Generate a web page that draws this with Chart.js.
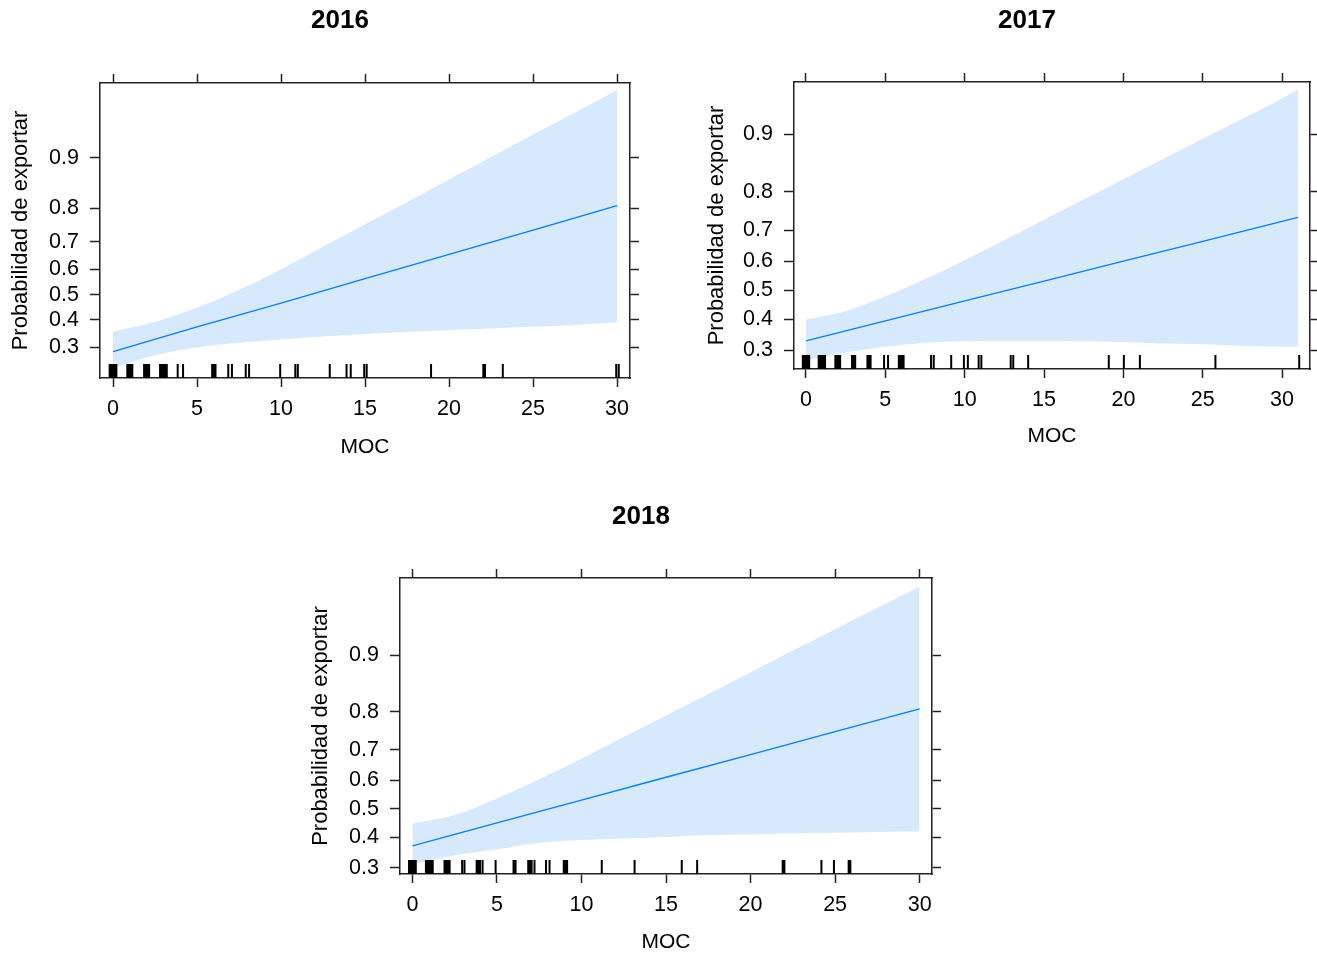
<!DOCTYPE html>
<html>
<head>
<meta charset="utf-8">
<script src="https://cdn.jsdelivr.net/npm/chart.js@4.4.1/dist/chart.umd.min.js"></script>
<style>
  html, body { margin: 0; padding: 0; background: #fff; }
  #page { position: relative; width: 1317px; height: 955px; overflow: hidden; }
  #page canvas { position: absolute; }
</style>
</head>
<body>
<div id="page">
  <canvas id="c2016"></canvas>
  <canvas id="c2017"></canvas>
  <canvas id="c2018"></canvas>
</div>
<script>
// values (probabilities), per year
var moc2016 = [0, 5, 10, 15, 20, 25, 30];
var fit2016 = [0.286, 0.374, 0.466, 0.564, 0.656, 0.738, 0.807];
var bandMoc2016 = [0, 2.5, 5, 7.5, 10, 12.5, 15, 17.5, 20, 22.5, 25, 27.5, 30];
var upper2016 = [0.356, 0.393, 0.449, 0.519, 0.600, 0.684, 0.756, 0.816, 0.864, 0.901, 0.929, 0.949, 0.964];
var lower2016 = [0.235, 0.275, 0.300, 0.316, 0.328, 0.338, 0.347, 0.355, 0.362, 0.368, 0.374, 0.381, 0.391];
var rug2016 = [-0.2, -0.1, 0, 0.1, 0.2, 0.85, 0.95, 1.05, 1.15, 1.85, 1.95, 2.05, 2.15,
  2.8, 2.9, 3.0, 3.1, 3.2, 3.85, 4.17, 5.9, 6.0, 6.1, 6.86, 7.08, 7.9, 8.1, 9.95,
  10.85, 11.0, 12.9, 13.9, 14.15, 14.95, 15.1, 18.93, 22.04, 22.14, 23.2, 29.95, 30.1];

var moc2017 = [0, 5, 10, 15, 20, 25, 31];
var fit2017 = [0.329, 0.394, 0.463, 0.532, 0.601, 0.666, 0.736];
var bandMoc2017 = [0, 2.5, 5, 7.5, 10, 12.5, 15, 17.5, 20, 22.5, 25, 27.5, 30, 31];
var upper2017 = [0.399, 0.427, 0.479, 0.539, 0.604, 0.670, 0.730, 0.782, 0.827, 0.864, 0.894, 0.918, 0.937, 0.944];
var lower2017 = [0.272, 0.294, 0.311, 0.323, 0.328, 0.329, 0.329, 0.328, 0.326, 0.321, 0.319, 0.314, 0.311, 0.311];
var rug2017 = [-0.2, -0.1, 0, 0.1, 0.2, 0.8, 0.9, 1.0, 1.1, 1.2, 1.85, 1.95, 2.05, 2.15,
  2.9, 3.0, 3.1, 3.87, 3.97, 4.07, 4.92, 5.17, 5.85, 5.95, 6.05, 6.15, 7.88, 8.05,
  9.15, 9.95, 10.2, 10.88, 11.05, 12.9, 13.06, 14.0, 19.08, 20.03, 21.04, 25.8, 31.08];

var moc2018 = [0, 5, 10, 15, 20, 25, 30];
var fit2018 = [0.370, 0.450, 0.531, 0.611, 0.685, 0.751, 0.807];
var bandMoc2018 = [0, 2.5, 5, 7.5, 10, 12.5, 15, 17.5, 20, 22.5, 25, 27.5, 30];
var upper2018 = [0.447, 0.478, 0.537, 0.604, 0.672, 0.737, 0.792, 0.838, 0.876, 0.906, 0.929, 0.947, 0.960];
var lower2018 = [0.311, 0.339, 0.359, 0.381, 0.390, 0.395, 0.400, 0.407, 0.409, 0.413, 0.415, 0.418, 0.419];
var rug2018 = [-0.2, -0.1, 0, 0.1, 0.2, 0.8, 0.9, 1.0, 1.1, 1.2, 1.9, 2.0, 2.1, 2.2,
  2.94, 3.08, 3.8, 3.9, 4.0, 4.15, 4.92, 5.98, 6.1, 6.85, 6.95, 7.05, 7.22, 7.9, 8.11,
  8.95, 9.05, 9.15, 11.2, 13.14, 15.93, 16.84, 21.9, 22.0, 24.19, 24.93, 25.8, 25.9];

var xTicks = [0, 5, 10, 15, 20, 25, 30];
var yTicks = [0.3, 0.4, 0.5, 0.6, 0.7, 0.8, 0.9];
var yTickLabels = ["0.3", "0.4", "0.5", "0.6", "0.7", "0.8", "0.9"];

var fontFamily = "'Liberation Sans', Arial, sans-serif";
var axisColor = "#222";
var bandColor = "rgb(215, 233, 253)";

function logit(p) { return Math.log(p / (1 - p)); }

function points(xs, ps) {
  return xs.map(function (x, i) { return { x: x, y: logit(ps[i]) }; });
}

// rug of observed MOC values along the bottom of the panel
var rugPlugin = {
  id: "rug",
  afterDatasetsDraw: function (chart, args, opts) {
    var ctx = chart.ctx, xs = chart.scales.x, area = chart.chartArea;
    ctx.save();
    ctx.strokeStyle = "#000";
    ctx.lineWidth = 2;
    ctx.beginPath();
    opts.values.forEach(function (v) {
      var px = xs.getPixelForValue(v);
      ctx.moveTo(px, area.bottom);
      ctx.lineTo(px, area.bottom - 14);
    });
    ctx.stroke();
    ctx.restore();
  }
};

function makePanel(p) {
  var canvas = document.getElementById(p.id);
  canvas.width = p.w;
  canvas.height = p.h;
  canvas.style.left = p.left + "px";
  canvas.style.top = p.top + "px";

  var tickFont = { family: fontFamily, size: 21.5 };
  var setX = function (s) { s.ticks = xTicks.map(function (v) { return { value: v }; }); };
  var setY = function (s) { s.ticks = yTicks.map(function (v) { return { value: logit(v) }; }); };
  var grid = function (len) {
    return { drawOnChartArea: false, drawTicks: true, tickLength: len, tickColor: axisColor, tickWidth: 1.5 };
  };
  var border = { display: true, color: axisColor, width: 1.5 };

  new Chart(canvas, {
    type: "line",
    data: {
      datasets: [
        {
          data: points(p.moc, p.fit),
          borderColor: "#0080ff",
          borderWidth: 1.3,
          pointRadius: 0,
          fill: false
        },
        {
          data: points(p.bandMoc, p.upper),
          borderColor: "transparent",
          borderWidth: 0,
          pointRadius: 0,
          backgroundColor: bandColor,
          fill: "+1",
          cubicInterpolationMode: "monotone"
        },
        {
          data: points(p.bandMoc, p.lower),
          borderColor: "transparent",
          borderWidth: 0,
          pointRadius: 0,
          fill: false,
          cubicInterpolationMode: "monotone"
        }
      ]
    },
    options: {
      responsive: false,
      animation: false,
      events: [],
      layout: { padding: 0 },
      plugins: {
        legend: { display: false },
        tooltip: { enabled: false },
        title: {
          display: true,
          text: p.title,
          color: "#000",
          font: { family: fontFamily, size: 26, weight: "bold" },
          padding: { top: 5, bottom: p.titleGap }
        },
        rug: { values: p.rug }
      },
      scales: {
        x: {
          type: "linear", position: "bottom", min: p.xMin, max: p.xMax,
          afterBuildTicks: setX,
          ticks: { font: tickFont, color: "#000", padding: 9, maxRotation: 0, autoSkip: false },
          grid: grid(9), border: border,
          title: { display: true, text: "MOC", color: "#000", font: { family: fontFamily, size: 21 }, padding: 0 },
          afterFit: function (s) { s.height = p.bottomH; }
        },
        xTop: {
          type: "linear", position: "top", min: p.xMin, max: p.xMax,
          afterBuildTicks: setX,
          ticks: { display: false },
          grid: grid(9), border: border,
          afterFit: function (s) { s.height = 9; }
        },
        y: {
          type: "linear", position: "left", min: p.yMin, max: p.yMax,
          afterBuildTicks: setY,
          ticks: {
            font: tickFont, color: "#000", padding: 11, autoSkip: false,
            callback: function (v, i) { return yTickLabels[i]; }
          },
          grid: grid(10), border: border,
          title: {
            display: true, text: "Probabilidad de exportar", color: "#000",
            font: { family: fontFamily, size: 22 },
            padding: { top: p.yTitlePad, bottom: 0 }
          },
          afterFit: function (s) { s.width = p.leftW; }
        },
        yRight: {
          type: "linear", position: "right", min: p.yMin, max: p.yMax,
          afterBuildTicks: setY,
          ticks: { display: false },
          grid: grid(9), border: border,
          afterFit: function (s) { s.width = p.rightW; }
        }
      }
    },
    plugins: [rugPlugin]
  });
}

makePanel({
  id: "c2016", title: "2016", left: 0, top: 0, w: 680, h: 460,
  leftW: 100, rightW: 50, bottomH: 82, titleGap: 37.8, yTitlePad: 7.8,
  xMin: -0.774, xMax: 30.77, yMin: -1.337, yMax: 3.398,
  moc: moc2016, fit: fit2016, bandMoc: bandMoc2016, upper: upper2016, lower: lower2016, rug: rug2016
});

makePanel({
  id: "c2017", title: "2017", left: 700, top: 0, w: 654, h: 449,
  leftW: 94, rightW: 44, bottomH: 80, titleGap: 36.8, yTitlePad: 3.8,
  xMin: -0.756, xMax: 31.76, yMin: -1.108, yMax: 2.932,
  moc: moc2017, fit: fit2017, bandMoc: bandMoc2017, upper: upper2017, lower: lower2017, rug: rug2017
});

makePanel({
  id: "c2018", title: "2018", left: 300, top: 496, w: 682, h: 459,
  leftW: 100, rightW: 50, bottomH: 81, titleGap: 36.8, yTitlePad: 7.8,
  xMin: -0.734, xMax: 30.73, yMin: -0.934, yMax: 3.305,
  moc: moc2018, fit: fit2018, bandMoc: bandMoc2018, upper: upper2018, lower: lower2018, rug: rug2018
});
</script>
</body>
</html>
